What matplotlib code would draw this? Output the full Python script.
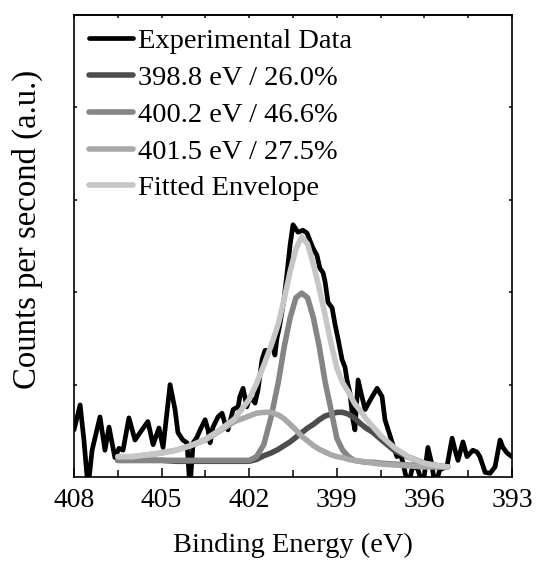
import matplotlib
matplotlib.use("Agg")
import matplotlib.pyplot as plt
from matplotlib.ticker import MultipleLocator, NullFormatter

plt.rcParams['font.family'] = ['Liberation Serif', 'DejaVu Serif']
plt.rcParams['mathtext.fontset'] = 'stix'

# ---------------- data ----------------
exp_energy = [408.00, 407.79, 407.66, 407.52, 407.38, 407.11, 406.94, 406.80, 406.60, 406.46,
              406.32, 406.12, 405.91, 405.74, 405.47, 405.29, 405.09, 404.95, 404.71, 404.54,
              404.44, 404.27, 404.13, 404.03, 403.92, 403.79, 403.68, 403.51, 403.41, 403.34,
              403.24, 403.07, 402.93, 402.83, 402.73, 402.55, 402.38, 402.32, 402.21, 402.08,
              401.97, 401.80, 401.70, 401.56, 401.46, 401.29, 401.18, 401.12, 401.05, 400.95,
              400.81, 400.71, 400.60, 400.50, 400.33, 400.16, 400.02, 399.82, 399.68, 399.58,
              399.47, 399.40, 399.30, 399.16, 399.06, 398.96, 398.82, 398.72, 398.65, 398.55,
              398.45, 398.38, 398.27, 398.14, 398.03, 397.86, 397.62, 397.45, 397.35, 397.18,
              397.08, 396.94, 396.84, 396.73, 396.56, 396.39, 396.22, 396.05, 395.88, 395.74,
              395.64, 395.47, 395.23, 395.05, 394.95, 394.85, 394.68, 394.54, 394.34, 394.20,
              394.10, 393.92, 393.75, 393.58, 393.41, 393.31, 393.17, 393.00]
exp_counts = [0.51, 0.78, 0.40, -0.12, 0.29, 0.65, 0.29, 0.54, 0.21, 0.31,
              0.29, 0.64, 0.40, 0.48, 0.60, 0.35, 0.53, 0.32, 1.00, 0.73,
              0.48, 0.40, 0.37, -0.12, 0.37, 0.43, 0.51, 0.62, 0.51, 0.37,
              0.54, 0.65, 0.69, 0.58, 0.51, 0.73, 0.76, 0.87, 0.96, 0.76,
              0.87, 0.80, 0.94, 1.27, 1.37, 1.37, 1.45, 1.32, 1.50, 1.65,
              1.92, 2.19, 2.51, 2.73, 2.65, 2.67, 2.64, 2.48, 2.40, 2.26,
              2.21, 2.11, 1.89, 1.83, 1.65, 1.50, 1.27, 1.19, 1.05, 0.91,
              0.62, 0.51, 1.05, 0.87, 0.73, 0.83, 0.96, 0.87, 0.62, 0.45,
              0.35, 0.22, 0.27, 0.15, -0.10, 0.13, 0.08, -0.10, 0.32, 0.13,
              -0.10, 0.08, 0.11, 0.42, 0.29, 0.18, 0.38, 0.22, 0.29, 0.27,
              0.22, 0.05, 0.04, 0.11, 0.40, 0.32, 0.26, 0.22]

fit_energy = [406.5, 406.0, 405.5, 405.0, 404.5, 404.0, 403.5, 403.0, 402.5, 402.0,
              401.75, 401.5, 401.25, 401.0, 400.8, 400.6, 400.4, 400.2, 400.0, 399.8,
              399.6, 399.4, 399.2, 399.0, 398.8, 398.6, 398.4, 398.2, 398.0, 397.75,
              397.5, 397.0, 396.5, 396.0, 395.5, 395.2]
peak_3988 = [0.18, 0.18, 0.18, 0.18, 0.17, 0.17, 0.17, 0.17, 0.17, 0.17,
             0.19, 0.23, 0.26, 0.30, 0.34, 0.38, 0.43, 0.48, 0.53, 0.57,
             0.62, 0.66, 0.68, 0.70, 0.70, 0.68, 0.64, 0.58, 0.53, 0.48,
             0.41, 0.28, 0.21, 0.15, 0.12, 0.11]
peak_4002 = [0.18, 0.18, 0.18, 0.18, 0.18, 0.18, 0.18, 0.18, 0.18, 0.18,
             0.22, 0.35, 0.65, 1.03, 1.41, 1.72, 1.94, 1.99, 1.94, 1.72,
             1.41, 1.03, 0.73, 0.42, 0.29, 0.22, 0.18, 0.17, 0.16, 0.16,
             0.15, 0.14, 0.13, 0.12, 0.11, 0.11]
peak_4015 = [0.22, 0.22, 0.24, 0.26, 0.29, 0.34, 0.40, 0.50, 0.60, 0.66,
             0.69, 0.70, 0.70, 0.67, 0.63, 0.57, 0.51, 0.44, 0.39, 0.34,
             0.30, 0.27, 0.24, 0.22, 0.21, 0.19, 0.18, 0.17, 0.16, 0.15,
             0.14, 0.13, 0.12, 0.11, 0.11, 0.11]
envelope = [0.22, 0.22, 0.24, 0.26, 0.29, 0.34, 0.41, 0.51, 0.63, 0.84,
            1.01, 1.21, 1.42, 1.66, 1.93, 2.22, 2.47, 2.60, 2.52, 2.30,
            2.04, 1.75, 1.45, 1.18, 1.02, 0.92, 0.80, 0.72, 0.63, 0.54,
            0.45, 0.31, 0.21, 0.15, 0.12, 0.11]

labels = ["Experimental Data", "398.8 eV / 26.0%", "400.2 eV / 46.6%",
          "401.5 eV / 27.5%", "Fitted Envelope"]
colors = ["#000000", "#4d4d4d", "#858585", "#a8a8a8", "#c6c6c6"]
x_ticks = [408, 405, 402, 399, 396, 393]

# ---------------- figure ----------------
fig = plt.figure(figsize=(5.36, 5.61), dpi=100)
ax = fig.add_axes([74/536, 1-477/561, (512-74)/536, (477-15)/561])

ax.plot(exp_energy, exp_counts, color=colors[0], lw=3.4, label=labels[0],
        solid_joinstyle='round', solid_capstyle='round', zorder=2)
for yv, c, lab in zip([peak_3988, peak_4002, peak_4015, envelope], colors[1:], labels[1:]):
    ax.plot(fit_energy, yv, color=c, lw=4.0, label=lab,
            solid_joinstyle='round', solid_capstyle='round', zorder=3)

ax.set_xlim(408, 393)
ax.set_ylim(0, 5)
ax.set_xticks(x_ticks)
ax.xaxis.set_minor_locator(MultipleLocator(1.5))
ax.set_yticks([1, 2, 3, 4])
ax.yaxis.set_major_formatter(NullFormatter())
ax.tick_params(axis='x', which='major', direction='in', length=6.5, width=1.1,
               labelsize=20, pad=8, top=False)
ax.tick_params(axis='x', which='minor', direction='in', length=5, width=1.1, top=False)
ax.tick_params(axis='y', which='major', direction='in', length=2.5, width=1.1,
               left=True, right=True)
sec = ax.secondary_xaxis('top')
sec.set_xticks(x_ticks)
sec.xaxis.set_minor_locator(MultipleLocator(1.5))
sec.tick_params(which='both', direction='in', length=2.5, width=1.1, labeltop=False)
sec.spines['top'].set_linewidth(1.2)
for s in ax.spines.values():
    s.set_linewidth(1.2)

ax.set_xlabel("Binding Energy (eV)", fontsize=20.5, labelpad=14)
ax.set_ylabel("Counts per second (a.u.)", fontsize=23.6)
ax.yaxis.set_label_coords(-0.071, 0.535)

leg = ax.legend(loc='upper left', bbox_to_anchor=(0.034, 0.972), borderaxespad=0,
                borderpad=0, frameon=False, fontsize=20.5, handlelength=1.55,
                handletextpad=0.18, labelspacing=0.385)

fig.savefig("out.png", dpi=100)
